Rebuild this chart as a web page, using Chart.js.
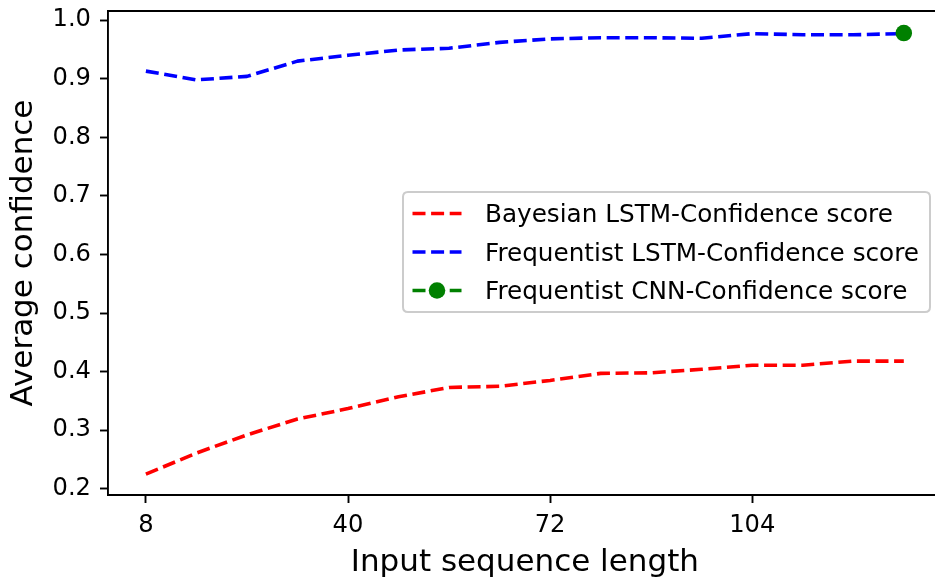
<!DOCTYPE html>
<html>
<head>
<meta charset="utf-8">
<title>Average confidence vs input sequence length</title>
<script src="https://cdn.jsdelivr.net/npm/chart.js@4.4.1/dist/chart.umd.min.js"></script>
<style>
  html, body { margin: 0; padding: 0; background: #ffffff; overflow: hidden; }
  #wrap { position: relative; width: 950px; height: 581px; }
</style>
</head>
<body>
<div id="wrap"><canvas id="chart" width="950" height="581"></canvas></div>
<script>
// Input sequence lengths evaluated
const seqLengths = [8, 16, 24, 32, 40, 48, 56, 64, 72, 80, 88, 96, 104, 112, 120, 128];

// Average confidence per model
const bayesianLstm = [0.225, 0.261, 0.292, 0.319, 0.337, 0.357, 0.373, 0.375, 0.385, 0.397, 0.398, 0.404, 0.411, 0.411, 0.418, 0.418];
const frequentistLstm = [0.913, 0.898, 0.904, 0.930, 0.940, 0.949, 0.952, 0.962, 0.968, 0.970, 0.970, 0.969, 0.977, 0.975, 0.975, 0.977];
const cnnLengths = [128];
const cnnScores = [0.978];

// Series names
const seriesNames = [
  'Bayesian LSTM-Confidence score',
  'Frequentist LSTM-Confidence score',
  'Frequentist CNN-Confidence score'
];

// Axis ticks and limits
const xTickValues = [8, 40, 72, 104];
const yTickValues = [0.2, 0.3, 0.4, 0.5, 0.6, 0.7, 0.8, 0.9, 1.0];
const xLimits = [2, 134];
const yLimits = [0.1894, 1.0156];

const FONT = '"DejaVu Sans", "Liberation Sans", sans-serif';
const DASH = [13, 5.6];

const toPoints = (xs, ys) => xs.map((x, i) => ({ x: x, y: ys[i] }));

// Closes the frame on the top and right sides of the plot area
const framePlugin = {
  id: 'frame',
  afterDatasetsDraw(chart) {
    const { ctx, chartArea: a } = chart;
    ctx.save();
    ctx.strokeStyle = '#000';
    ctx.lineWidth = 1.9;
    ctx.beginPath();
    ctx.moveTo(a.left, a.top);
    ctx.lineTo(a.right, a.top);
    ctx.lineTo(a.right, a.bottom);
    ctx.stroke();
    ctx.restore();
  }
};

// Framed legend placed inside the plot area, built from the datasets
const insideLegendPlugin = {
  id: 'insideLegend',
  afterDraw(chart) {
    const { ctx } = chart;
    const fs = 24.7;
    const left = 403, top = 192, right = 930, rowPitch = 38.5, firstRow = 21.5;
    const n = chart.data.datasets.length;
    const bottom = top + firstRow * 2 + rowPitch * (n - 1);
    ctx.save();
    const r = 5;
    ctx.beginPath();
    ctx.moveTo(left + r, top);
    ctx.lineTo(right - r, top);
    ctx.quadraticCurveTo(right, top, right, top + r);
    ctx.lineTo(right, bottom - r);
    ctx.quadraticCurveTo(right, bottom, right - r, bottom);
    ctx.lineTo(left + r, bottom);
    ctx.quadraticCurveTo(left, bottom, left, bottom - r);
    ctx.lineTo(left, top + r);
    ctx.quadraticCurveTo(left, top, left + r, top);
    ctx.closePath();
    ctx.fillStyle = 'rgba(255,255,255,0.8)';
    ctx.fill();
    ctx.strokeStyle = '#cccccc';
    ctx.lineWidth = 2;
    ctx.stroke();

    chart.data.datasets.forEach((ds, i) => {
      const y = top + firstRow + i * rowPitch;
      const x0 = left + 9.5, x1 = x0 + 49;
      ctx.save();
      ctx.strokeStyle = ds.borderColor;
      ctx.lineWidth = ds.borderWidth;
      ctx.setLineDash(ds.borderDash || []);
      ctx.lineCap = 'butt';
      ctx.beginPath();
      ctx.moveTo(x0, y);
      ctx.lineTo(x1, y);
      ctx.stroke();
      ctx.restore();
      if (ds.pointRadius > 0) {
        ctx.beginPath();
        ctx.fillStyle = ds.pointBackgroundColor;
        ctx.arc((x0 + x1) / 2, y, ds.pointRadius, 0, Math.PI * 2);
        ctx.fill();
      }
      ctx.fillStyle = '#000';
      ctx.font = fs + 'px ' + FONT;
      ctx.textAlign = 'left';
      ctx.textBaseline = 'alphabetic';
      ctx.fillText(ds.label, 485, y + 8.8);
    });
    ctx.restore();
  }
};

const lineStyle = (color) => ({
  borderColor: color,
  backgroundColor: color,
  borderWidth: 3.6,
  borderDash: DASH,
  borderCapStyle: 'butt',
  borderJoinStyle: 'round',
  tension: 0,
  fill: false
});

new Chart(document.getElementById('chart'), {
  type: 'line',
  data: {
    datasets: [
      Object.assign({
        label: seriesNames[0],
        data: toPoints(seqLengths, bayesianLstm),
        pointRadius: 0,
        order: 3
      }, lineStyle('#ff0000')),
      Object.assign({
        label: seriesNames[1],
        data: toPoints(seqLengths, frequentistLstm),
        pointRadius: 0,
        order: 2
      }, lineStyle('#0000ff')),
      Object.assign({
        label: seriesNames[2],
        data: toPoints(cnnLengths, cnnScores),
        pointRadius: 8.3,
        pointBorderWidth: 0,
        pointBackgroundColor: '#008000',
        pointBorderColor: '#008000',
        order: 1
      }, lineStyle('#008000'))
    ]
  },
  options: {
    responsive: false,
    animation: false,
    events: [],
    devicePixelRatio: 1,
    layout: { padding: { top: 11, right: 7.5, left: 0, bottom: 0 } },
    plugins: {
      legend: { display: false },
      tooltip: { enabled: false },
      title: { display: false }
    },
    scales: {
      x: {
        type: 'linear',
        min: xLimits[0],
        max: xLimits[1],
        afterBuildTicks: (s) => { s.ticks = xTickValues.map(v => ({ value: v })); },
        afterFit: (s) => { s.height = 86; s.paddingLeft = 0; s.paddingRight = 0; },
        ticks: {
          color: '#000',
          font: { family: FONT, size: 24.2 },
          padding: 8,
          maxRotation: 0,
          autoSkip: false,
          callback: (v) => String(v)
        },
        grid: {
          display: true,
          drawOnChartArea: false,
          drawTicks: true,
          tickLength: 8,
          tickWidth: 1.9,
          tickColor: '#000'
        },
        border: { display: true, color: '#000', width: 1.9 },
        title: {
          display: true,
          text: 'Input sequence length',
          color: '#000',
          font: { family: FONT, size: 31, lineHeight: 1.1 },
          padding: { top: 0, bottom: 0.5 }
        }
      },
      y: {
        type: 'linear',
        min: yLimits[0],
        max: yLimits[1],
        afterBuildTicks: (s) => { s.ticks = yTickValues.map(v => ({ value: v })); },
        afterFit: (s) => { s.width = 108; s.paddingTop = 0; s.paddingBottom = 0; },
        ticks: {
          color: '#000',
          font: { family: FONT, size: 24.2 },
          padding: 9,
          autoSkip: false,
          callback: (v) => Number(v).toFixed(1)
        },
        grid: {
          display: true,
          drawOnChartArea: false,
          drawTicks: true,
          tickLength: 8,
          tickWidth: 1.9,
          tickColor: '#000'
        },
        border: { display: true, color: '#000', width: 1.9 },
        title: {
          display: true,
          text: 'Average confidence',
          color: '#000',
          font: { family: FONT, size: 31 },
          padding: { top: 5, bottom: 0 }
        }
      }
    }
  },
  plugins: [framePlugin, insideLegendPlugin]
});
</script>
</body>
</html>
